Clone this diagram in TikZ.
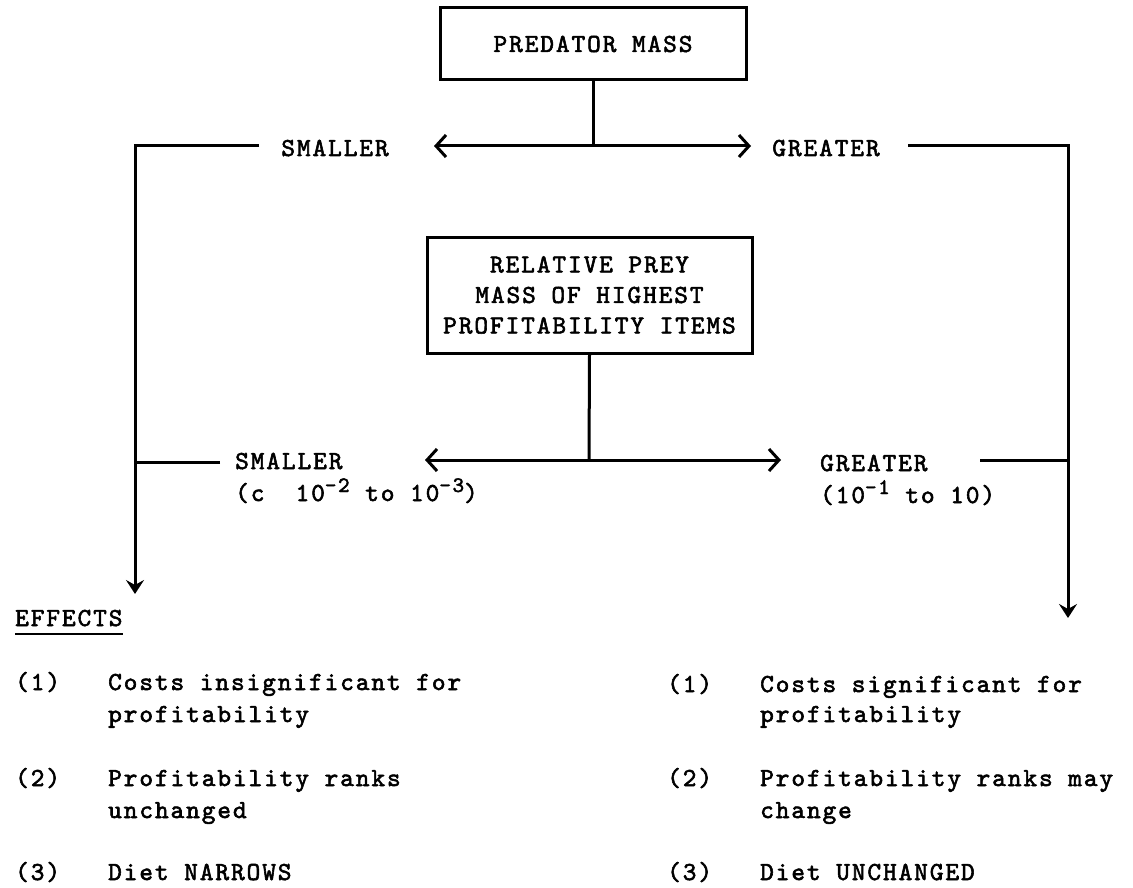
\documentclass[tikz,border=0pt]{standalone}
\usepackage{fontspec}
\setmonofont{lmmono10-regular}[Extension=.otf, LetterSpace=7.5, FakeBold=2.2]
\usetikzlibrary{arrows.meta}
\newcommand\tfont{\fontsize{26pt}{30.5pt}\selectfont\ttfamily}
\newcommand\sups[1]{\raisebox{9pt}{\fontsize{22pt}{22pt}\selectfont #1}}
\tikzset{
  lbl/.style={inner sep=0pt, font=\tfont},
  boxn/.style={draw, line width=3pt, inner sep=0pt, font=\tfont, align=center},
  ln/.style={line width=3pt},
  harr/.style={ln, -{Straight Barb[length=10pt,width=22pt]}},
  varr/.style={ln, -{Stealth[length=14pt,width=18pt,inset=5pt]}},
}
\begin{document}
\begin{tikzpicture}[x=1pt,y=-1pt]
\useasboundingbox (0,0) rectangle (1133,888);
\fill[white] (0,0) rectangle (1133,888);

% top box
\node[boxn, minimum width=306pt, minimum height=72pt] (pm) at (593,44) {PREDATOR MASS};
\coordinate (j1) at (593,146);
\coordinate (a1l) at (434,146);
\coordinate (a1r) at (751,146);
\draw[ln] (pm.south) -- (j1);
\draw[harr] (j1) -- (a1l);
\draw[harr] (j1) -- (a1r);
\node[lbl, anchor=base] (s1) at (335,156) {SMALLER};
\node[lbl, anchor=base] (g1) at (826,156) {GREATER};

% outer branches
\coordinate (tl0) at (259,146);
\coordinate (tl1) at (135,146);
\coordinate (tl2) at (135,594);
\draw[varr] (tl0) -- (tl1) -- (tl2);
\coordinate (tr0) at (908,146);
\coordinate (tr1) at (1068,146);
\coordinate (tr2) at (1068,618);
\draw[varr] (tr0) -- (tr1) -- (tr2);

% middle box
\node[boxn, minimum width=325pt, minimum height=116pt] (rp) at (589.5,295)
  {RELATIVE PREY\\MASS OF HIGHEST\\PROFITABILITY ITEMS};
\coordinate (j2) at (589,460);
\coordinate (a2l) at (425,460);
\coordinate (a2r) at (781,460);
\draw[ln] (rp.south) -- (j2);
\draw[harr] (j2) -- (a2l);
\draw[harr] (j2) -- (a2r);
\node[lbl, anchor=base west] (s2) at (235,469) {SMALLER};
\node[lbl, anchor=base west] (s2b) at (235,501) {(c~~10\sups{-2} to 10\sups{-3})};
\node[lbl, anchor=base west] (g2) at (820,471) {GREATER};
\node[lbl, anchor=base west] (g2b) at (820,503) {(10\sups{-1} to 10)};
\coordinate (ml) at (220,462);
\coordinate (mr) at (980,460);
\draw[ln] (ml) -- (tl1 |- ml);
\draw[ln] (mr) -- (tr1 |- mr);

% effects
\node[lbl, anchor=base west] (eff) at (15,626) {EFFECTS};
\draw[line width=2.4pt] ([yshift=-8pt]eff.base west) -- ([yshift=-8pt]eff.base east);

\node[lbl, anchor=base west] (n1l) at (15,690) {(1)};
\node[lbl, anchor=base west] (t1l) at (108,690) {Costs insignificant for};
\node[lbl, anchor=base west] (t1lb) at (108,722) {profitability};
\node[lbl, anchor=base west] (n2l) at (15,786) {(2)};
\node[lbl, anchor=base west] (t2l) at (108,786) {Profitability ranks};
\node[lbl, anchor=base west] (t2lb) at (108,818) {unchanged};
\node[lbl, anchor=base west] (n3l) at (15,880) {(3)};
\node[lbl, anchor=base west] (t3l) at (108,880) {Diet NARROWS};

\node[lbl, anchor=base west] (n1r) at (667,692) {(1)};
\node[lbl, anchor=base west] (t1r) at (760,692) {Costs significant for};
\node[lbl, anchor=base west] (t1rb) at (760,722) {profitability};
\node[lbl, anchor=base west] (n2r) at (667,786) {(2)};
\node[lbl, anchor=base west] (t2r) at (760,786) {Profitability ranks may};
\node[lbl, anchor=base west] (t2rb) at (760,818) {change};
\node[lbl, anchor=base west] (n3r) at (667,880) {(3)};
\node[lbl, anchor=base west] (t3r) at (760,880) {Diet UNCHANGED};
\end{tikzpicture}
\end{document}
